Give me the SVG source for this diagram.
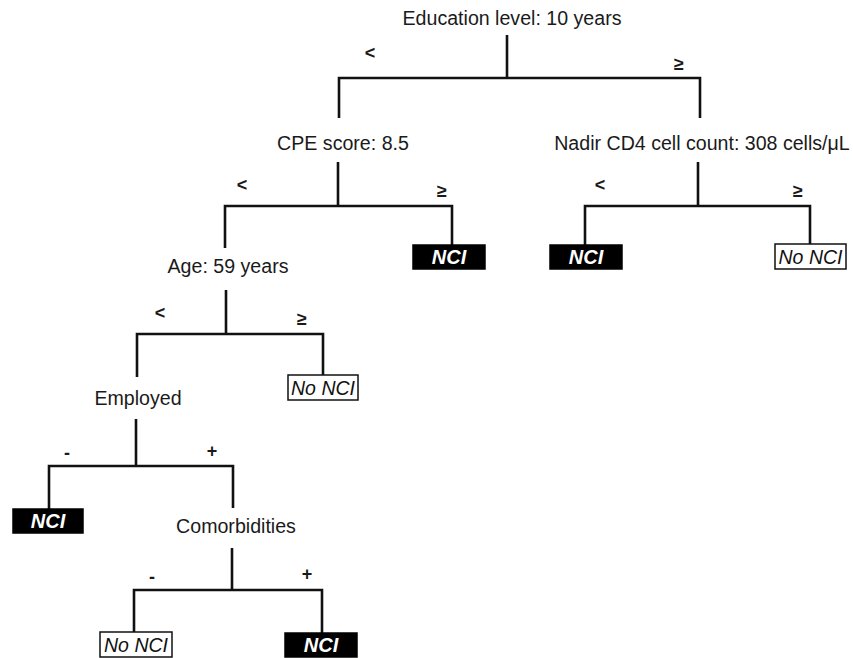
<svg xmlns="http://www.w3.org/2000/svg" width="853" height="658" viewBox="0 0 853 658">
<style>
.lbl{font-family:"Liberation Sans",Arial,Helvetica,sans-serif;font-size:19.6px;fill:#1a1a1a;text-anchor:middle}
.op{font-family:"Liberation Sans",Arial,sans-serif;font-size:18px;font-weight:bold;fill:#1a1a1a;text-anchor:middle}
.conn{fill:none;stroke:#111;stroke-width:2.6;stroke-linejoin:miter;stroke-linecap:butt}
.nci rect{fill:#000;stroke:#000;stroke-width:1.5}
.nci text{font-family:"Liberation Sans",Arial,sans-serif;font-size:20px;font-weight:bold;font-style:italic;fill:#fff;text-anchor:middle}
.no rect{fill:#fff;stroke:#111;stroke-width:1.5}
.no text{font-family:"Liberation Sans",Arial,sans-serif;font-size:19.5px;font-style:italic;fill:#111;text-anchor:middle}
</style>
<rect width="853" height="658" fill="#fff"/>
<g id="connectors">
<path class="conn" d="M507 35V78M339 118V78H700V118"/>
<path class="conn" d="M338 162V206M225 248V206H452V245"/>
<path class="conn" d="M698 162V206M585 245V206H810V244"/>
<path class="conn" d="M226 290V334M137 377V334H323V375"/>
<path class="conn" d="M136 419V466M49 509V466H233V508"/>
<path class="conn" d="M232 548V590M134 632V590H322V633"/>
<text class="op" x="370" y="59">&lt;</text>
<text class="op" x="679" y="70">≥</text>
<text class="op" x="242" y="191">&lt;</text>
<text class="op" x="442" y="197">≥</text>
<text class="op" x="600" y="191">&lt;</text>
<text class="op" x="798" y="197">≥</text>
<text class="op" x="160" y="319">&lt;</text>
<text class="op" x="302" y="325">≥</text>
<text class="op" x="67" y="459">-</text>
<text class="op" x="212" y="457">+</text>
<text class="op" x="152" y="583">-</text>
<text class="op" x="307" y="580">+</text>
</g>
<g id="n-education"><text class="lbl" x="512" y="25">Education level: 10 years</text></g>
<g id="n-cpe"><text class="lbl" x="343" y="150">CPE score: 8.5</text></g>
<g id="n-nadir"><text class="lbl" x="702" y="150">Nadir CD4 cell count: 308 cells/μL</text></g>
<g id="n-cpe-nci" class="nci"><rect x="413" y="245" width="72" height="24"/><text x="449" y="264">NCI</text></g>
<g id="n-nadir-nci" class="nci"><rect x="550" y="245" width="72" height="24"/><text x="586" y="264">NCI</text></g>
<g id="n-nadir-no" class="no"><rect x="775" y="244" width="71" height="25"/><text x="810.5" y="264">No NCI</text></g>
<g id="n-age"><text class="lbl" x="228" y="273">Age: 59 years</text></g>
<g id="n-age-no" class="no"><rect x="288" y="375" width="70" height="25"/><text x="323" y="395">No NCI</text></g>
<g id="n-employed"><text class="lbl" x="138" y="405">Employed</text></g>
<g id="n-emp-nci" class="nci"><rect x="13" y="509" width="70" height="24"/><text x="48" y="528">NCI</text></g>
<g id="n-comorb"><text class="lbl" x="236" y="533">Comorbidities</text></g>
<g id="n-com-no" class="no"><rect x="100" y="632" width="72" height="25"/><text x="136" y="652">No NCI</text></g>
<g id="n-com-nci" class="nci"><rect x="285" y="633" width="72" height="24"/><text x="321" y="652">NCI</text></g>
</svg>
